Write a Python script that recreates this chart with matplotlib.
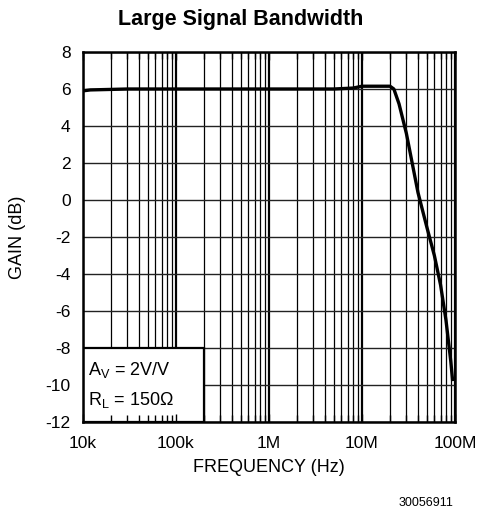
import matplotlib
matplotlib.use("Agg")
import matplotlib.pyplot as plt
from matplotlib.patches import Rectangle
from matplotlib.ticker import LogLocator, NullFormatter

plt.rcParams['font.family'] = ['Liberation Sans', 'DejaVu Sans']
plt.rcParams['mathtext.fontset'] = 'custom'
plt.rcParams['mathtext.rm'] = 'Liberation Sans'
plt.rcParams['mathtext.it'] = 'Liberation Sans:italic'

# Data
freq_hz = [1e4, 1.2e4, 3e4, 1e5, 1e6, 5e6, 8e6, 1e7, 2e7, 2.2e7, 2.5e7, 3e7,
           4e7, 5e7, 6e7, 7e7, 8e7, 9e7, 9.4e7]
gain_db = [5.9, 5.95, 6.0, 6.0, 6.0, 6.0, 6.05, 6.15, 6.15, 6.0, 5.2, 3.6,
           0.4, -1.5, -3.0, -4.6, -6.5, -8.7, -9.7]

x_ticks = [1e4, 1e5, 1e6, 1e7, 1e8]
x_tick_labels = ['10k', '100k', '1M', '10M', '100M']
y_ticks = list(range(-12, 9, 2))

fig = plt.figure(figsize=(4.82, 5.17), dpi=100)
ax = fig.add_axes([83/482, 1-422/517, (455-83)/482, (422-52)/517])

ax.set_xscale('log')
ax.set_xlim(1e4, 1e8)
ax.set_ylim(-12, 8)

ax.set_xticks(x_ticks)
ax.set_xticklabels(x_tick_labels)
ax.xaxis.set_minor_locator(LogLocator(base=10, subs=range(2, 10)))
ax.xaxis.set_minor_formatter(NullFormatter())
ax.set_yticks(y_ticks)
ax.set_yticklabels([str(v) for v in y_ticks])
ax.set_axisbelow(True)

ax.grid(True, which='major', axis='x', color='black', linewidth=1.6)
ax.grid(True, which='minor', axis='x', color='black', linewidth=0.9)
ax.grid(True, which='major', axis='y', color='#222222', linewidth=1.0)

ax.tick_params(which='both', length=0, labelsize=12.5)
ax.tick_params(axis='x', pad=10)
ax.tick_params(axis='y', pad=9)
for s in ax.spines.values():
    s.set_linewidth(1.8)
    s.set_zorder(5)

# inward tick marks drawn above the condition box
for loc in ('bottom', 'top'):
    sec = ax.secondary_xaxis(loc)
    sec.set_zorder(7)
    sec.set_xticks(x_ticks)
    sec.xaxis.set_minor_locator(LogLocator(base=10, subs=range(2, 10)))
    sec.xaxis.set_minor_formatter(NullFormatter())
    sec.tick_params(which='both', direction='in', labelbottom=False, labeltop=False,
                    width=1.0, color='black')
    sec.tick_params(which='major', length=6)
    sec.tick_params(which='minor', length=5)
    sec.spines[loc].set_visible(False)

ax.plot(freq_hz, gain_db, color='black', linewidth=2.4, zorder=4, solid_joinstyle='round')

# condition box
box_x = (1e4, 2e5)
box_y = (-12, -8)
ax.add_patch(Rectangle((box_x[0], box_y[0]), box_x[1]-box_x[0], box_y[1]-box_y[0],
                       facecolor='white', edgecolor='black', linewidth=1.6, zorder=3))
ax.text(1.12e4, -9.2, r'A$_\mathrm{V}$ = 2V/V', fontsize=13, va='center', ha='left', zorder=6)
ax.text(1.12e4, -10.8, r'R$_\mathrm{L}$ = 150Ω', fontsize=13, va='center', ha='left', zorder=6)

ax.set_xlabel('FREQUENCY (Hz)', fontsize=13)
ax.xaxis.set_label_coords(0.5, (422-459)/370)
ax.set_ylabel('GAIN (dB)', fontsize=13)
ax.yaxis.label.set_va('center')
ax.yaxis.set_label_coords((17-83)/372, 0.5)

fig.text(0.5, 1-19/517, 'Large Signal Bandwidth', ha='center', va='center',
         fontsize=15.5, fontweight='bold')
fig.text(453/482, 1-503/517, '30056911', ha='right', va='center', fontsize=9)

fig.savefig('out.png', dpi=100)
